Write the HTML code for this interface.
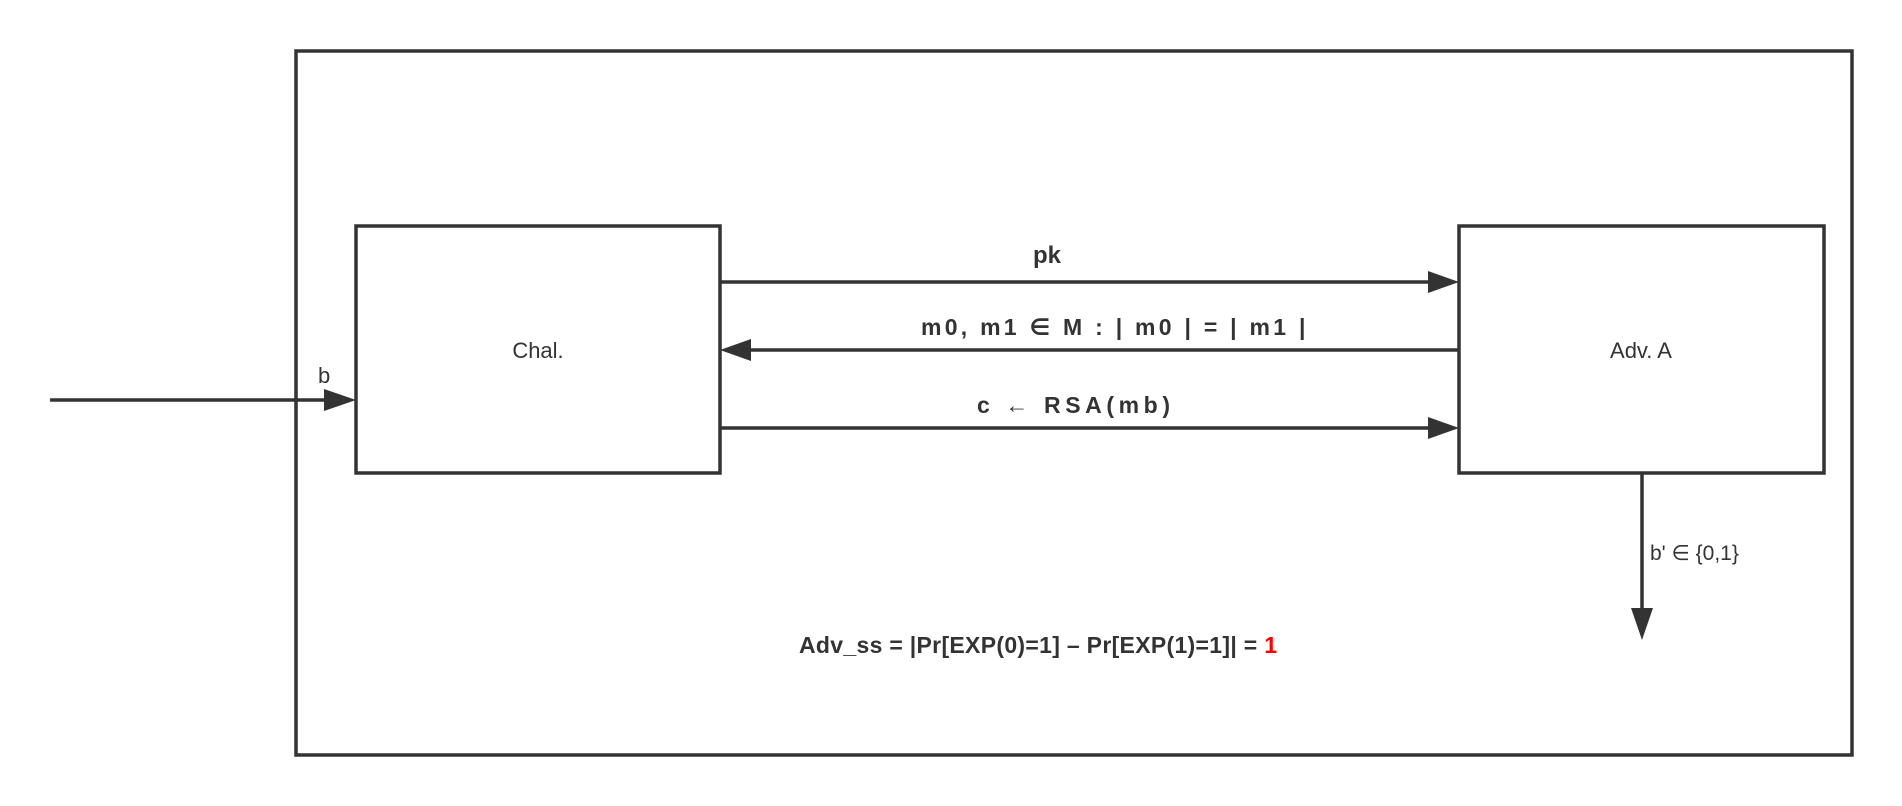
<!DOCTYPE html>
<html><head><meta charset="utf-8"><style>
html,body{margin:0;padding:0;background:#fff;}
svg{display:block;}
text{font-family:"Liberation Sans","DejaVu Sans",sans-serif;fill:#333;}
</style></head><body>
<svg width="1902" height="806" viewBox="0 0 1902 806" xmlns="http://www.w3.org/2000/svg">
<rect x="296" y="51" width="1556" height="704" fill="none" stroke="#333" stroke-width="3.5"/>
<rect x="356" y="226" width="364" height="247" fill="none" stroke="#333" stroke-width="3.5"/>
<rect x="1459" y="226" width="365" height="247" fill="none" stroke="#333" stroke-width="3.5"/>
<text x="538" y="358" font-size="22" text-anchor="middle">Chal.</text>
<text x="1641" y="358" font-size="22" text-anchor="middle">Adv. A</text>
<line x1="50" y1="400" x2="326" y2="400" stroke="#333" stroke-width="3.5"/>
<polygon points="356,400 324,389 324,411" fill="#333"/>
<text x="318" y="383" font-size="22">b</text>
<line x1="720" y1="282" x2="1430" y2="282" stroke="#333" stroke-width="3.5"/>
<polygon points="1459,282 1428,271 1428,293" fill="#333"/>
<text x="1047" y="263" font-size="24" font-weight="bold" text-anchor="middle">pk</text>
<line x1="750" y1="350" x2="1459" y2="350" stroke="#333" stroke-width="3.5"/>
<polygon points="720,350 751,339 751,361" fill="#333"/>
<text x="921" y="335" font-size="23" font-weight="bold" letter-spacing="2.6" textLength="387" lengthAdjust="spacing">m0, m1 ∈ M : | m0 | = | m1 |</text>
<line x1="720" y1="428" x2="1430" y2="428" stroke="#333" stroke-width="3.5"/>
<polygon points="1459,428 1428,417 1428,439" fill="#333"/>
<text x="977" y="413" font-size="23" font-weight="bold" textLength="193" lengthAdjust="spacing">c  ←  RSA(mb)</text>
<line x1="1642" y1="473" x2="1642" y2="612" stroke="#333" stroke-width="3.5"/>
<polygon points="1642,640 1631,608 1653,608" fill="#333"/>
<text x="1650" y="560" font-size="21">b' ∈ {0,1}</text>
<text x="799" y="653" font-size="23" font-weight="bold" textLength="478" lengthAdjust="spacing">Adv_ss = |Pr[EXP(0)=1] – Pr[EXP(1)=1]| = <tspan fill="#ff0000">1</tspan></text>
</svg>
</body></html>
